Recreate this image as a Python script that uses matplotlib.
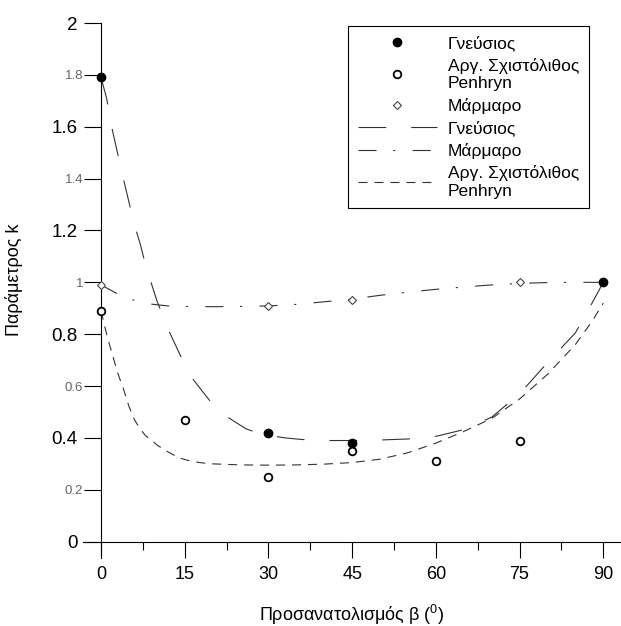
import matplotlib
matplotlib.use('Agg')
import matplotlib.pyplot as plt

plt.rcParams['font.family'] = ['Liberation Sans', 'DejaVu Sans']
plt.rcParams['mathtext.fontset'] = 'custom'
plt.rcParams['mathtext.rm'] = 'Liberation Sans'
plt.rcParams['lines.scale_dashes'] = False

# measured points
gn_pts_x = [0, 30, 45, 90]
gn_pts_y = [1.79, 0.42, 0.38, 1.0]
ar_pts_x = [0, 15, 30, 45, 60, 75]
ar_pts_y = [0.89, 0.47, 0.25, 0.35, 0.31, 0.39]
ma_pts_x = [0, 30, 45, 75]
ma_pts_y = [0.99, 0.91, 0.93, 1.0]

# fitted curves
gn_fit_x = [0, 1, 2, 3, 4, 5, 6, 7, 8, 9, 10, 12, 14, 16, 18, 20, 22, 24, 26, 28,
            30, 33, 36, 40, 45, 50, 55, 60, 65, 70, 75, 80, 85, 88, 90]
gn_fit_y = [1.79, 1.71, 1.59, 1.495, 1.40, 1.31, 1.22, 1.15, 1.065, 0.997, 0.93,
            0.82, 0.728, 0.64, 0.584, 0.53, 0.49, 0.462, 0.435, 0.42, 0.41, 0.40,
            0.394, 0.39, 0.39, 0.392, 0.396, 0.406, 0.432, 0.48, 0.57, 0.69,
            0.805, 0.92, 1.0]
ma_fit_x = [0, 3, 6, 9, 12, 15, 20, 25, 30, 35, 40, 45, 50, 55, 60, 65, 70, 75,
            80, 85, 90]
ma_fit_y = [0.99, 0.955, 0.93, 0.916, 0.909, 0.907, 0.906, 0.907, 0.909, 0.915,
            0.925, 0.935, 0.95, 0.962, 0.973, 0.982, 0.99, 0.996, 0.999, 1.0, 1.0]
ar_fit_x = [0, 1, 2, 3, 4, 5, 6, 7, 8, 9, 10, 12, 14, 16, 18, 20, 25, 30, 35, 40,
            45, 50, 55, 60, 65, 70, 75, 80, 85, 88, 90]
ar_fit_y = [0.89, 0.80, 0.724, 0.65, 0.59, 0.522, 0.47, 0.435, 0.408, 0.393,
            0.373, 0.346, 0.323, 0.311, 0.304, 0.30, 0.296, 0.295, 0.296, 0.299,
            0.305, 0.318, 0.343, 0.38, 0.425, 0.475, 0.55, 0.645, 0.76, 0.85, 0.92]

x_ticks = [0, 15, 30, 45, 60, 75, 90]
x_minor = [7.5, 22.5, 37.5, 52.5, 67.5, 82.5]
y_ticks = [0, 0.2, 0.4, 0.6, 0.8, 1, 1.2, 1.4, 1.6, 1.8, 2]
y_labels = ['0', '0.2', '0.4', '0.6', '0.8', '1', '1.2', '1.4', '1.6', '1.8', '2']

lbl_gn = 'Γνεύσιος'
lbl_ar = 'Αργ. Σχιστόλιθος\nPenhryn'
lbl_ma = 'Μάρμαρο'

fig = plt.figure(figsize=(6.21, 6.26), dpi=100)
ax = fig.add_axes([83/621, 68/626, 537/621, 535/626])

ax.plot(gn_pts_x, gn_pts_y, 'o', ms=6, color='black', ls='none', label=lbl_gn, zorder=5)
ax.plot(ar_pts_x, ar_pts_y, 'o', ms=5.5, mfc='white', mec='black', mew=1.3,
        ls='none', label=lbl_ar, zorder=5)
ax.plot(ma_pts_x, ma_pts_y, 'D', ms=4.5, mfc='white', mec='#444444', mew=0.8,
        ls='none', label=lbl_ma, zorder=5)

ax.plot(gn_fit_x, gn_fit_y, color='#333333', lw=0.8, dashes=[20, 18], label=lbl_gn)
ax.plot(ma_fit_x, ma_fit_y, color='#333333', lw=0.8, dashes=[13, 12, 1.5, 12.5],
        label=lbl_ma)
ax.plot(ar_fit_x, ar_fit_y, color='#333333', lw=0.8, dashes=[6.5, 5], label=lbl_ar)

ax.set_xlim(-3.23, 93.0)
ax.set_ylim(-0.063, 2.0)

ax.spines['left'].set_position(('data', 0))
ax.spines['bottom'].set_position(('data', 0))
ax.spines['top'].set_visible(False)
ax.spines['right'].set_visible(False)
for s in ('left', 'bottom'):
    ax.spines[s].set_linewidth(0.8)

ax.set_xticks(x_ticks)
ax.set_xticks(x_minor, minor=True)
ax.set_yticks(y_ticks)
ax.set_yticklabels(y_labels)
ax.tick_params(axis='x', which='major', direction='out', length=11.5, width=0.8,
               labelsize=13, pad=6)
ax.tick_params(axis='x', which='minor', direction='out', length=6, width=0.8)
ax.tick_params(axis='y', direction='out', length=12, width=0.8, labelsize=13.5, pad=5)

# every second y label comes out smaller and lighter
for i, t in enumerate(ax.yaxis.get_major_ticks()):
    if i % 2 == 1:
        t.label1.set_fontsize(9.5)
        t.label1.set_color('#666666')
        t.set_pad(1)

ax.set_xlabel('Προσανατολισμός β ($^{0}$)', fontsize=13)
ax.set_ylabel('Παράμετρος k', fontsize=13)
ax.xaxis.set_label_coords(0.5, -0.083)
ax.yaxis.set_label_coords(-0.112, 0.52)

leg = ax.legend(loc='upper left', bbox_to_anchor=(348/621, 1 - 25.7/626),
                bbox_transform=fig.transFigure, borderaxespad=0, fontsize=12.5,
                numpoints=1, handlelength=4.6, handletextpad=0.6, fancybox=False,
                framealpha=1, edgecolor='black', labelspacing=0.38, borderpad=0.55)
leg.get_frame().set_linewidth(0.8)
for txt in leg.get_texts():
    txt.set_linespacing(1.2)

plt.savefig('out.png', dpi=100)
